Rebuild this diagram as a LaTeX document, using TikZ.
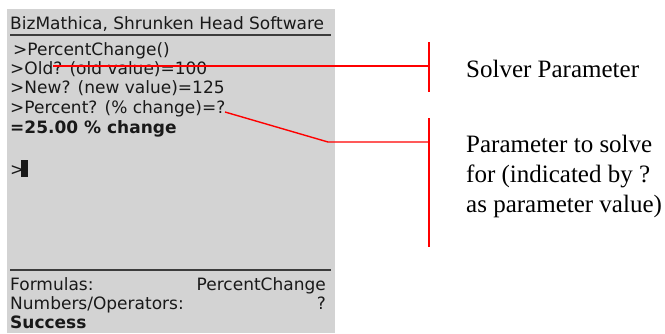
\documentclass[tikz,border=0pt]{standalone}
\usepackage{fontspec}
\setmainfont{Liberation Serif}
\newfontfamily\palmfont{DejaVu Sans}
\definecolor{screengray}{RGB}{211,211,211}
\definecolor{palmink}{RGB}{25,25,25}
\definecolor{callred}{RGB}{255,0,0}
\begin{document}
\begin{tikzpicture}[x=1pt,y=-1pt,
  scr/.style={inner sep=0pt,anchor=base west,text=palmink,font=\palmfont\fontsize{17}{17}\selectfont},
  scrr/.style={scr,anchor=base east},
  scrb/.style={scr,font=\palmfont\bfseries\fontsize{17}{17}\selectfont},
  rule/.style={draw=palmink!85,line width=1.6pt},
  call/.style={draw=callred,line width=1.4pt},
  lbl/.style={inner sep=0pt,anchor=base west,align=left,font=\fontsize{25}{30}\selectfont}]
\useasboundingbox (0,0) rectangle (665,333);
% screen
\fill[screengray] (7,9) rectangle (335,333);
\node[scr] (title) at (10,29) {BizMathica, Shrunken Head Software};
\draw[rule] (10,35) -- (331,35);
\node[scr] (l1) at (13,55) {>PercentChange()};
\node[scr] (l2) at (10,74) {>Old? (old value)=100};
\node[scr] (l3) at (10,93) {>New? (new value)=125};
\node[scr] (l4) at (10,113) {>Percent? (\% change)=?};
\node[scrb] (l5) at (10,133) {=25.00 \% change};
\node[scr] (l6) at (10,175) {>};
\fill[palmink] (21,160) rectangle (28,177);
\draw[rule] (10,270) -- (331,270);
\node[scr] (f1) at (10,290) {Formulas:};
\node[scrr] (f2) at (326,290) {PercentChange};
\node[scr] (n1) at (10,309) {Numbers/Operators:};
\node[scrr] (n2) at (326,309) {?};
\node[scrb] (s1) at (10,328) {Success};
% labels
\node[lbl] (solver) at (466,77) {Solver Parameter};
\node[lbl] (solve) at (466,212) {Parameter to solve\\for (indicated by ?\\as parameter value)};
% callouts
\coordinate (c1a) at (53,66);
\coordinate (c1b) at (429,66);
\coordinate (t1) at (429,42);
\coordinate (u1) at (429,92);
\coordinate (c2a) at (225,112);
\coordinate (c2k) at (328,142);
\coordinate (c2b) at (429,142);
\coordinate (t2) at (429,118);
\coordinate (u2) at (429,247);
\draw[call] (c1a) -- (c1b);
\draw[call] (t1) -- (u1);
\draw[call] (c2a) -- (c2k) -- (c2b);
\draw[call] (t2) -- (u2);
\end{tikzpicture}
\end{document}
